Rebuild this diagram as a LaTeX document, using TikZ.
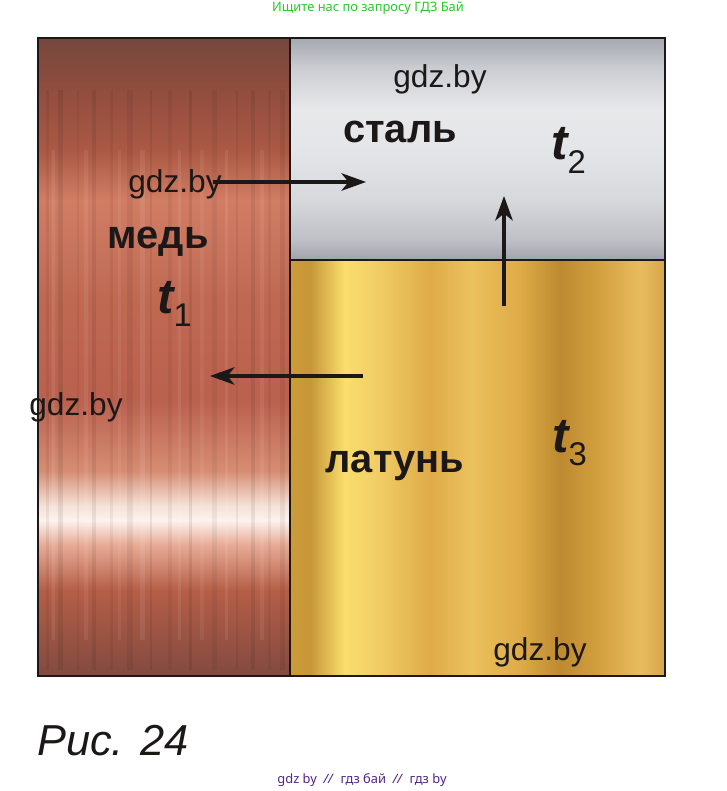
\documentclass[tikz,border=0pt]{standalone}
\usepackage{fontspec}
\setmainfont{Liberation Sans}
\newfontfamily\webfont{Noto Sans}
\usetikzlibrary{arrows.meta}
\definecolor{inkdark}{RGB}{28,24,24}
\definecolor{webgreen}{RGB}{40,200,40}
\definecolor{webpurple}{RGB}{80,35,135}
% metal textures
\pgfdeclareverticalshading{coppershade}{100bp}{rgb(0bp)=(.51,.29,.25); rgb(25bp)=(.51,.29,.25); rgb(31.7bp)=(.71,.37,.28); rgb(35.3bp)=(.91,.67,.59); rgb(37.2bp)=(.99,.95,.93); rgb(38.4bp)=(.96,.88,.84); rgb(41.1bp)=(.84,.55,.45); rgb(46.6bp)=(.73,.38,.31); rgb(54.5bp)=(.75,.41,.32); rgb(58bp)=(.78,.45,.36); rgb(62.3bp)=(.82,.49,.39); rgb(66.2bp)=(.67,.35,.27); rgb(70bp)=(.59,.31,.25); rgb(75bp)=(.46,.28,.24); rgb(100bp)=(.46,.28,.24)}
\pgfdeclareverticalshading{steelshade}{100bp}{rgb(0bp)=(.63,.64,.67); rgb(25bp)=(.63,.64,.67); rgb(29.5bp)=(.75,.75,.78); rgb(38.5bp)=(.84,.85,.86); rgb(49.8bp)=(.89,.90,.91); rgb(58.8bp)=(.91,.91,.92); rgb(67.8bp)=(.80,.81,.83); rgb(75bp)=(.65,.66,.69); rgb(100bp)=(.65,.66,.69)}
\pgfdeclarehorizontalshading{brassshade}{100bp}{rgb(0bp)=(.80,.61,.22); rgb(25bp)=(.80,.61,.22); rgb(27.7bp)=(.78,.59,.22); rgb(32.3bp)=(.98,.87,.43); rgb(37bp)=(.94,.80,.39); rgb(43.7bp)=(.87,.67,.28); rgb(49bp)=(.92,.76,.37); rgb(55.7bp)=(.87,.67,.28); rgb(61bp)=(.74,.54,.19); rgb(66.3bp)=(.83,.63,.25); rgb(71.7bp)=(.91,.74,.37); rgb(75bp)=(.84,.65,.29); rgb(100bp)=(.84,.65,.29)}

\begin{document}
\begin{tikzpicture}[x=0.03cm,y=-0.03cm,
  lbl/.style={text=inkdark,font=\fontsize{34}{34}\selectfont\bfseries,anchor=base,inner sep=0pt},
  wm/.style={text=inkdark,font=\fontsize{27}{27}\selectfont,anchor=base,inner sep=0pt},
  temp/.style={text=inkdark,font=\fontsize{42}{42}\selectfont\bfseries\itshape,anchor=base west,inner sep=0pt},
  flow/.style={inkdark,line width=2.6pt,-{Stealth[length=21pt,width=15pt,inset=6pt]}},
  edge/.style={inkdark,line width=2pt}]
  \useasboundingbox (0,0) rectangle (726,791);
  % plates
  \shade[shading=coppershade] (38,38) rectangle (290,676);
  \foreach \x/\w/\o in {46/3/.06,58/5/.08,77/2/.05,92/4/.07,110/3/.05,127/6/.06,150/2/.07,168/4/.05,189/3/.08,212/5/.05,236/2/.06,251/4/.07,268/3/.05,280/5/.06}
    \fill[black,opacity=\o] (\x,90) rectangle (\x+\w,670);
  \foreach \x/\w/\o in {52/3/.08,84/4/.07,118/3/.06,140/5/.08,178/3/.07,200/4/.06,225/3/.08,260/4/.07}
    \fill[white,opacity=\o] (\x,150) rectangle (\x+\w,640);
  \shade[shading=steelshade] (290,38) rectangle (665,260);
  \shade[shading=brassshade] (290,260) rectangle (665,676);
  \draw[edge] (38,38) rectangle (665,676);
  \draw[edge] (290,38) -- (290,676);
  \draw[edge] (290,260) -- (665,260);
  % labels
  \node[lbl] (lblSteel) at (400,143) {сталь};
  \node[lbl] (lblCopper) at (158,248) {медь};
  \node[lbl] (lblBrass) at (395,472) {латунь};
  \node[temp] (tSteel) at (551,160) {t\raisebox{-0.28em}{\fontsize{28}{28}\selectfont\mdseries\upshape 2}};
  \node[temp] (tCopper) at (157,313) {t\raisebox{-0.28em}{\fontsize{28}{28}\selectfont\mdseries\upshape 1}};
  \node[temp] (tBrass) at (552,452) {t\raisebox{-0.28em}{\fontsize{28}{28}\selectfont\mdseries\upshape 3}};
  \node[wm] (wm1) at (440,88) {gdz.by};
  \node[wm] (wm2) at (175,193) {gdz.by};
  \node[wm] (wm3) at (76,415) {gdz.by};
  \node[wm] (wm4) at (540,660) {gdz.by};
  % heat flow
  \coordinate (cuOut) at (213,182);
  \coordinate (stIn) at (366,182);
  \coordinate (brOut) at (504,306);
  \coordinate (stUp) at (504,196);
  \coordinate (brLeft) at (363,376);
  \coordinate (cuIn) at (210,376);
  \draw[flow] (cuOut) -- (stIn);
  \draw[flow] (brOut) -- (stUp);
  \draw[flow] (brLeft) -- (cuIn);
  % caption and site lines
  \node[text=inkdark,font=\fontsize{37}{37}\selectfont\itshape,anchor=base west,inner sep=0pt] (caption) at (37,755) {Рис. 24};
  \node[text=webgreen,font=\webfont\fontsize{11}{11}\selectfont,inner sep=0pt] (header) at (368,8) {Ищите нас по запросу ГДЗ Бай};
  \node[text=webpurple,font=\webfont\fontsize{11}{11}\selectfont,inner sep=0pt] (footer) at (362,780) {gdz by \ \textit{//} \ гдз бай \ \textit{//} \ гдз by};
\end{tikzpicture}
\end{document}
